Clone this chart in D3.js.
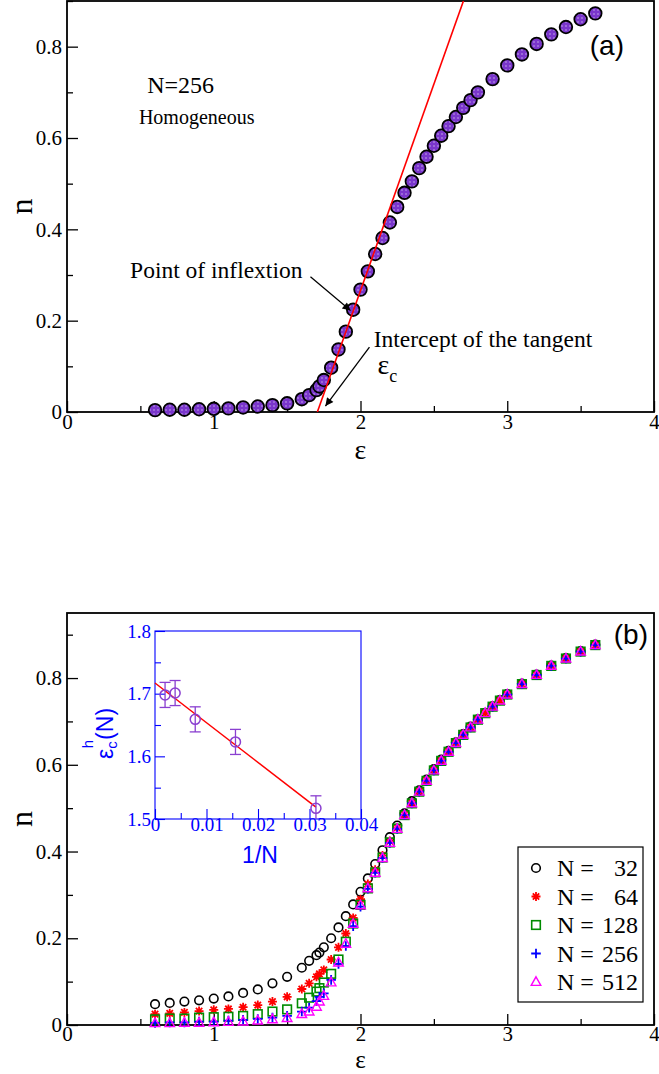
<!DOCTYPE html>
<html>
<head>
<meta charset="utf-8">
<script src="https://cdn.jsdelivr.net/npm/d3@7"></script>
<style>
  html, body { margin: 0; padding: 0; background: #fff; }
  svg { display: block; }
</style>
</head>
<body>
<script>
// ---------- panel (a): N = 256, homogeneous ----------
const epsA = [0.6,0.7,0.8,0.9,1.0,1.1,1.2,1.3,1.4,1.5,1.6,1.65,1.7,1.72,1.75,1.8,1.85,1.9,1.95,
  2.0,2.05,2.1,2.15,2.2,2.25,2.3,2.35,2.4,2.45,2.5,2.55,2.6,2.65,2.7,2.75,2.8,
  2.9,3.0,3.1,3.2,3.3,3.4,3.5,3.6];
const nA = [0.004,0.005,0.005,0.006,0.007,0.008,0.010,0.012,0.015,0.019,0.028,0.037,0.048,0.056,0.070,0.097,0.137,0.176,0.224,
  0.268,0.308,0.346,0.381,0.415,0.449,0.480,0.505,0.534,0.559,0.583,0.605,0.626,0.646,0.666,0.683,0.700,
  0.729,0.759,0.783,0.806,0.827,0.843,0.860,0.873];
// tangent through the point of inflexion
const tangentEps = [1.706, 2.75];
const tangentN = [0.0, 0.944];

// ---------- panel (b): several system sizes ----------
const epsB = [0.6,0.7,0.8,0.9,1.0,1.1,1.2,1.3,1.4,1.5,1.6,1.65,1.7,1.72,1.75,1.8,1.85,1.9,1.95,
  2.0,2.05,2.1,2.15,2.2,2.25,2.3,2.35,2.4,2.45,2.5,2.55,2.6,2.65,2.7,2.75,2.8,2.85,2.9,2.95,
  3.0,3.1,3.2,3.3,3.4,3.5,3.6];
const n32 = [0.048,0.051,0.054,0.057,0.061,0.066,0.074,0.082,0.096,0.111,0.132,0.148,0.161,0.167,0.179,0.200,0.225,0.251,0.278,
  0.307,0.338,0.371,0.403,0.433,0.460,0.488,0.516,0.541,0.566,0.590,0.612,0.632,0.652,0.671,0.688,0.705,0.720,0.735,0.749,
  0.763,0.787,0.808,0.829,0.846,0.862,0.877];
const n64 = [0.025,0.027,0.029,0.032,0.035,0.037,0.041,0.046,0.054,0.065,0.083,0.096,0.111,0.118,0.127,0.151,0.179,0.211,0.247,
  0.290,0.325,0.358,0.391,0.424,0.455,0.485,0.512,0.539,0.564,0.588,0.610,0.631,0.651,0.670,0.687,0.704,0.719,0.734,0.748,
  0.762,0.786,0.807,0.828,0.845,0.861,0.876];
const n128 = [0.013,0.015,0.015,0.017,0.018,0.019,0.021,0.025,0.031,0.036,0.050,0.063,0.077,0.085,0.098,0.118,0.151,0.192,0.234,
  0.277,0.315,0.352,0.386,0.421,0.453,0.484,0.511,0.538,0.563,0.587,0.609,0.630,0.650,0.669,0.686,0.704,0.719,0.734,0.748,
  0.762,0.786,0.807,0.828,0.845,0.861,0.876];
const n256 = [0.005,0.006,0.006,0.008,0.008,0.010,0.012,0.014,0.017,0.021,0.031,0.040,0.055,0.065,0.073,0.104,0.141,0.182,0.228,
  0.273,0.314,0.351,0.385,0.420,0.452,0.484,0.511,0.538,0.563,0.587,0.609,0.630,0.650,0.669,0.686,0.704,null,0.734,null,
  0.762,0.786,0.807,0.828,0.845,0.861,0.876];
const n512 = [0.004,0.004,0.005,0.005,0.006,0.007,0.008,0.010,0.013,0.016,0.025,0.031,0.042,0.054,0.067,0.098,0.144,0.187,0.233,
  0.276,0.315,0.351,0.385,0.420,0.452,0.484,0.511,0.538,0.563,0.587,0.609,0.630,0.650,0.669,0.686,0.704,0.719,0.734,0.748,
  0.762,0.786,0.807,0.828,0.845,0.861,0.876];
const sizeLabels = ["32", "64", "128", "256", "512"];

// ---------- inset: finite-size scaling of the threshold ----------
const invN = [1/512, 1/256, 1/128, 1/64, 1/32];
const epsC = [1.698, 1.701, 1.659, 1.623, 1.517];
const epsCErr = [0.020, 0.020, 0.020, 0.020, 0.020];
const fitInvN = [0, 1/32];
const fitEps = [1.717, 1.519];

// ---------- tick values ----------
const xTicks = [0, 1, 2, 3, 4];
const xMinor = [0.5, 1.5, 2.5, 3.5];
const yTicks = [0, 0.2, 0.4, 0.6, 0.8];
const yMinor = [0.1, 0.3, 0.5, 0.7, 0.9];
const insetXTicks = [0, 0.01, 0.02, 0.03, 0.04];
const insetXMinor = [0.005, 0.015, 0.025, 0.035];
const insetYTicks = [1.5, 1.6, 1.7, 1.8];
const insetYMinor = [1.55, 1.65, 1.75];

const SERIF = "'Liberation Serif', 'Times New Roman', serif";
const SANS = "'Liberation Sans', Arial, sans-serif";
const VIOLET = "#8a3fd0";

const svg = d3.select("body").append("svg").attr("width", 659).attr("height", 1074);
const defs = svg.append("defs");

// dotted violet fill for the panel (a) symbols
const pat = defs.append("pattern").attr("id", "dots")
  .attr("patternUnits", "userSpaceOnUse").attr("width", 4).attr("height", 4);
pat.append("rect").attr("width", 4).attr("height", 4).attr("fill", "#7a36cc");
pat.append("rect").attr("x", 1.5).attr("y", 1.5).attr("width", 1).attr("height", 1).attr("fill", "#fff");

defs.append("marker").attr("id", "arrowhead")
  .attr("viewBox", "0 0 10 10").attr("refX", 10).attr("refY", 5)
  .attr("markerUnits", "userSpaceOnUse").attr("markerWidth", 10).attr("markerHeight", 8)
  .attr("orient", "auto")
  .append("path").attr("d", "M0,0 L10,5 L0,10 Z").attr("fill", "#000");

function frameAxes(g, x, y, box, opts) {
  const { xt, xm, yt, ym, xfmt, yfmt, color, font, fsize, major, minor } = opts;
  // minor ticks
  g.append("g").attr("transform", `translate(0,${box.bottom})`)
    .call(d3.axisBottom(x).tickValues(xm).tickSize(-minor).tickFormat(""))
    .call(s => s.select(".domain").remove());
  g.append("g").attr("transform", `translate(${box.left},0)`)
    .call(d3.axisLeft(y).tickValues(ym).tickSize(-minor).tickFormat(""))
    .call(s => s.select(".domain").remove());
  // major ticks with labels
  const gx = g.append("g").attr("transform", `translate(0,${box.bottom})`)
    .call(d3.axisBottom(x).tickValues(xt).tickSize(-major).tickPadding(opts.xpad).tickFormat(xfmt))
    .call(s => s.select(".domain").remove());
  const gy = g.append("g").attr("transform", `translate(${box.left},0)`)
    .call(d3.axisLeft(y).tickValues(yt).tickSize(-major).tickPadding(opts.ypad).tickFormat(yfmt))
    .call(s => s.select(".domain").remove());
  [gx, gy].forEach(a => {
    a.attr("font-family", null).attr("font-size", null);
    a.selectAll("text").style("font-family", font).style("font-size", fsize + "px").attr("fill", color);
  });
  g.selectAll(".tick line").attr("stroke", color).attr("stroke-width", opts.tw);
  // frame
  g.append("rect").attr("x", box.left).attr("y", box.top)
    .attr("width", box.right - box.left).attr("height", box.bottom - box.top)
    .attr("fill", "none").attr("stroke", color).attr("stroke-width", opts.fw);
}

const fmtMain = d => d === 0 ? "0" : (Number.isInteger(d) ? d3.format("d")(d) : d3.format(".1f")(d));

// ================= panel (a) =================
const boxA = { left: 67, right: 654, top: 1, bottom: 412 };
const xA = d3.scaleLinear().domain([0, 4]).range([boxA.left, boxA.right]);
const yA = d3.scaleLinear().domain([0, 0.9]).range([boxA.bottom, boxA.top]);
const gA = svg.append("g");

defs.append("clipPath").attr("id", "clipA").append("rect")
  .attr("x", boxA.left).attr("y", boxA.top)
  .attr("width", boxA.right - boxA.left).attr("height", boxA.bottom - boxA.top);

frameAxes(gA, xA, yA, boxA, {
  xt: xTicks, xm: xMinor, yt: yTicks, ym: yMinor, xfmt: fmtMain, yfmt: fmtMain,
  color: "#000", font: SERIF, fsize: 21, major: 11, minor: 6, xpad: 2, ypad: 5, tw: 1.3, fw: 1.8
});

gA.append("g").selectAll("circle").data(epsA.map((e, i) => [e, nA[i]])).join("circle")
  .attr("cx", d => xA(d[0])).attr("cy", d => yA(d[1])).attr("r", 6.3)
  .attr("fill", "url(#dots)").attr("stroke", "#000").attr("stroke-width", 1.8);

gA.append("path").attr("clip-path", "url(#clipA)")
  .attr("d", d3.line().x(d => xA(d[0])).y(d => yA(d[1]))(tangentEps.map((e, i) => [e, tangentN[i]])))
  .attr("stroke", "#f00").attr("stroke-width", 1.6).attr("fill", "none");

// annotations
const annA = gA.append("g").attr("font-family", SERIF).attr("fill", "#000");
annA.append("text").attr("x", xA(0.546)).attr("y", yA(0.699)).attr("font-size", 24).text("N=256");
annA.append("text").attr("x", xA(0.49)).attr("y", yA(0.631)).attr("font-size", 20).text("Homogeneous");
annA.append("text").attr("x", xA(0.43)).attr("y", yA(0.294)).attr("font-size", 23.5).text("Point of inflextion");
annA.append("text").attr("x", xA(2.09)).attr("y", yA(0.143)).attr("font-size", 23.5).text("Intercept of the tangent");
const ec = annA.append("text").attr("x", xA(2.115)).attr("y", yA(0.084)).attr("font-size", 28);
ec.append("tspan").text("ε");
ec.append("tspan").attr("font-size", 18).attr("dy", 8).text("c");

const arrowsA = [
  [[1.659, 0.296], [1.932, 0.222]],
  [[2.061, 0.142], [1.761, 0.013]]
];
arrowsA.forEach(a => {
  gA.append("line")
    .attr("x1", xA(a[0][0])).attr("y1", yA(a[0][1]))
    .attr("x2", xA(a[1][0])).attr("y2", yA(a[1][1]))
    .attr("stroke", "#000").attr("stroke-width", 1.3).attr("marker-end", "url(#arrowhead)");
});

gA.append("text").attr("x", 624).attr("y", 55).attr("text-anchor", "end")
  .attr("font-family", SANS).attr("font-size", 28).text("(a)");
gA.append("text").attr("transform", `translate(32,${(boxA.top + boxA.bottom) / 2}) rotate(-90)`)
  .attr("text-anchor", "middle").attr("font-family", SERIF).attr("font-size", 32).text("n");
gA.append("text").attr("x", (boxA.left + boxA.right) / 2).attr("y", boxA.bottom + 47)
  .attr("text-anchor", "middle").attr("font-family", SERIF).attr("font-size", 28).text("ε");

// ================= panel (b) =================
const boxB = { left: 67, right: 654, top: 613, bottom: 1025 };
const xB = d3.scaleLinear().domain([0, 4]).range([boxB.left, boxB.right]);
const yB = d3.scaleLinear().domain([0, 0.95]).range([boxB.bottom, boxB.top]);
const gB = svg.append("g");

frameAxes(gB, xB, yB, boxB, {
  xt: xTicks, xm: xMinor, yt: yTicks, ym: yMinor, xfmt: fmtMain, yfmt: fmtMain,
  color: "#000", font: SERIF, fsize: 21, major: 11, minor: 6, xpad: 1, ypad: 5, tw: 1.3, fw: 1.8
});

// symbol painters
const symbols = {
  circle: (g, c) => g.append("circle").attr("r", 4.3).attr("fill", "none").attr("stroke", c).attr("stroke-width", 1.6),
  star: (g, c) => g.append("path").attr("d", "M-4.5,0H4.5M0,-4.5V4.5M-3.2,-3.2L3.2,3.2M-3.2,3.2L3.2,-3.2")
    .attr("stroke", c).attr("stroke-width", 1.8).attr("fill", "none"),
  square: (g, c) => g.append("rect").attr("x", -4.3).attr("y", -4.3).attr("width", 8.6).attr("height", 8.6)
    .attr("fill", "none").attr("stroke", c).attr("stroke-width", 1.6),
  plus: (g, c) => g.append("path").attr("d", "M-4.8,0H4.8M0,-4.8V4.8")
    .attr("stroke", c).attr("stroke-width", 1.8).attr("fill", "none"),
  triangle: (g, c) => g.append("path").attr("d", "M0,-5.2L4.8,3.4L-4.8,3.4Z")
    .attr("fill", "none").attr("stroke", c).attr("stroke-width", 1.4)
};

const seriesB = [
  { vals: n32, sym: "circle", color: "#000" },
  { vals: n64, sym: "star", color: "#ff0000" },
  { vals: n128, sym: "square", color: "#008b00" },
  { vals: n256, sym: "plus", color: "#0000ff" },
  { vals: n512, sym: "triangle", color: "#ff00ff" }
];

seriesB.forEach(s => {
  const pts = epsB.map((e, i) => [e, s.vals[i]]).filter(d => d[1] !== null);
  gB.append("g").selectAll("g").data(pts).join("g")
    .attr("transform", d => `translate(${xB(d[0])},${yB(d[1])})`)
    .each(function () { symbols[s.sym](d3.select(this), s.color); });
});

// legend
const leg = gB.append("g");
leg.append("rect").attr("x", 518).attr("y", 847).attr("width", 125).attr("height", 155)
  .attr("fill", "#fff").attr("stroke", "#000").attr("stroke-width", 1.2);
seriesB.forEach((s, i) => {
  const yy = 868 + i * 28.5;
  const gs = leg.append("g").attr("transform", `translate(536,${yy})`);
  symbols[s.sym](gs, s.color);
  leg.append("text").attr("x", 557).attr("y", yy + 8).attr("font-family", SERIF).attr("font-size", 24).text("N =");
  leg.append("text").attr("x", 638).attr("y", yy + 8).attr("text-anchor", "end")
    .attr("font-family", SERIF).attr("font-size", 24).text(sizeLabels[i]);
});

gB.append("text").attr("x", 648).attr("y", 644).attr("text-anchor", "end")
  .attr("font-family", SANS).attr("font-size", 28).text("(b)");
gB.append("text").attr("transform", `translate(32,${(boxB.top + boxB.bottom) / 2}) rotate(-90)`)
  .attr("text-anchor", "middle").attr("font-family", SERIF).attr("font-size", 32).text("n");
gB.append("text").attr("x", (boxB.left + boxB.right) / 2).attr("y", boxB.bottom + 43)
  .attr("text-anchor", "middle").attr("font-family", SERIF).attr("font-size", 25).text("ε");

// ================= inset =================
const boxI = { left: 155, right: 361, top: 631, bottom: 819 };
const xI = d3.scaleLinear().domain([0, 0.04]).range([boxI.left, boxI.right]);
const yI = d3.scaleLinear().domain([1.5, 1.8]).range([boxI.bottom, boxI.top]);
const gI = svg.append("g");
gI.append("rect").attr("x", boxI.left).attr("y", boxI.top)
  .attr("width", boxI.right - boxI.left).attr("height", boxI.bottom - boxI.top).attr("fill", "#fff");
defs.append("clipPath").attr("id", "clipI").append("rect")
  .attr("x", boxI.left).attr("y", boxI.top)
  .attr("width", boxI.right - boxI.left).attr("height", boxI.bottom - boxI.top);

const BLUE = "#0000ff";
frameAxes(gI, xI, yI, boxI, {
  xt: insetXTicks, xm: insetXMinor, yt: insetYTicks, ym: insetYMinor,
  xfmt: d => d === 0 ? "0" : d3.format(".2f")(d), yfmt: d3.format(".1f"),
  color: BLUE, font: SERIF, fsize: 19, major: 10, minor: 6, xpad: -2, ypad: 4, tw: 1.1, fw: 1.1
});

gI.append("path")
  .attr("d", d3.line().x(d => xI(d[0])).y(d => yI(d[1]))(fitInvN.map((v, i) => [v, fitEps[i]])))
  .attr("stroke", "#f00").attr("stroke-width", 1.5).attr("fill", "none");

const ptsI = invN.map((v, i) => ({ x: v, y: epsC[i], e: epsCErr[i] }));
const eb = gI.append("g").attr("clip-path", "url(#clipI)").attr("stroke", VIOLET).attr("stroke-width", 1.3).attr("fill", "none");
ptsI.forEach(p => {
  const cx = xI(p.x), y0 = yI(p.y - p.e), y1 = yI(p.y + p.e);
  eb.append("line").attr("x1", cx).attr("x2", cx).attr("y1", y0).attr("y2", y1);
  eb.append("line").attr("x1", cx - 5.5).attr("x2", cx + 5.5).attr("y1", y0).attr("y2", y0);
  eb.append("line").attr("x1", cx - 5.5).attr("x2", cx + 5.5).attr("y1", y1).attr("y2", y1);
});
gI.append("g").selectAll("circle").data(ptsI).join("circle")
  .attr("cx", d => xI(d.x)).attr("cy", d => yI(d.y)).attr("r", 5)
  .attr("fill", "none").attr("stroke", VIOLET).attr("stroke-width", 1.5);

gI.append("text").attr("x", (boxI.left + boxI.right) / 2 + 2).attr("y", 863)
  .attr("text-anchor", "middle").attr("font-family", SANS).attr("font-size", 23).attr("fill", BLUE).text("1/N");
const yl = gI.append("text").attr("transform", `translate(113,759) rotate(-90)`)
  .attr("font-family", SANS).attr("font-size", 23).attr("fill", BLUE);
yl.append("tspan").text("ε");
yl.append("tspan").attr("font-size", 15).attr("dy", 4).text("c");
yl.append("tspan").attr("font-size", 15).attr("dx", -7).attr("dy", -24).text("h");
yl.append("tspan").attr("dy", 20).text("(N)");
</script>
</body>
</html>
